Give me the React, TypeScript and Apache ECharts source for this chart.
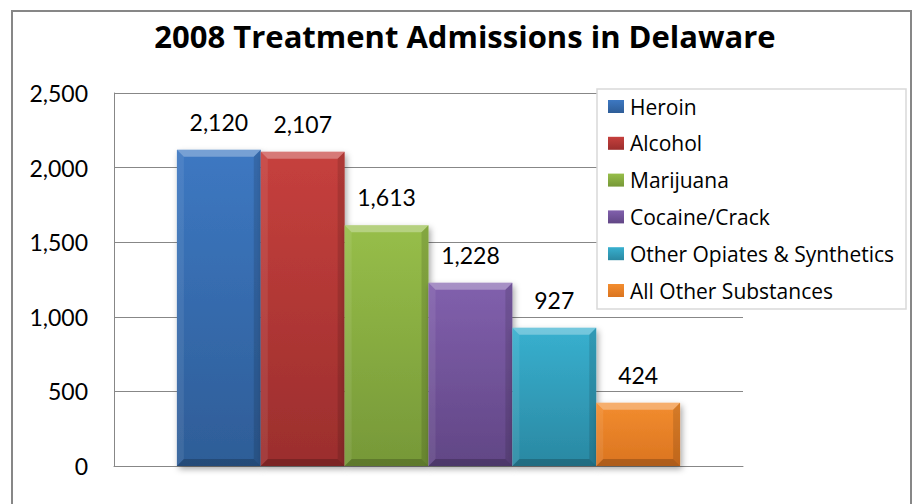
import React, { useEffect, useRef } from 'react';
import * as echarts from 'echarts';

const chartTitle = '2008 Treatment Admissions in Delaware';
const categoryAxis = ['2008'];
const substances = [
  'Heroin',
  'Alcohol',
  'Marijuana',
  'Cocaine/Crack',
  'Other Opiates & Synthetics',
  'All Other Substances',
];
const admissions = [2120, 2107, 1613, 1228, 927, 424];
const faceTop = ['#3d78c2', '#c6403d', '#97be49', '#8160ad', '#38b0cf', '#f38d2f'];
const faceBottom = ['#2e5d97', '#9b2e2d', '#769838', '#614685', '#2a88a2', '#da7420'];
const yMin = 0;
const yMax = 2500;
const yStep = 500;

const FONT = 'Lato';
const FONT2 = '"Open Sans"';

export default function App() {
  const ref = useRef<HTMLDivElement>(null);

  useEffect(() => {
    const chart = echarts.init(ref.current as HTMLDivElement, null, { renderer: 'svg' });
    const N = admissions.length;

    const series = substances.map((name, i) => ({
      type: 'custom',
      name,
      data: [[0, admissions[i]]],
      encode: { x: 0, y: 1 },
      z: 2,
      itemStyle: {
        color: new echarts.graphic.LinearGradient(0, 0, 0, 1, [
          { offset: 0, color: faceTop[i] },
          { offset: 1, color: faceBottom[i] },
        ]),
      },
      renderItem: (params: any, api: any) => {
        const cat = api.value(0);
        const v = api.value(1);
        const p0 = api.coord([cat, 0]);
        const p1 = api.coord([cat, v]);
        const band = api.size([1, 0])[0];
        const groupW = band * 0.8;
        const w = groupW / N;
        const x = p0[0] - groupW / 2 + i * w;
        const ty = p1[1];
        const by = p0[1];
        const h = by - ty;
        const b = Math.min(7, h / 3);
        const grad = new echarts.graphic.LinearGradient(0, 0, 0, 1, [
          { offset: 0, color: faceTop[i] },
          { offset: 1, color: faceBottom[i] },
        ]);
        return {
          type: 'group',
          children: [
            {
              type: 'rect',
              shape: { x, y: ty, width: w, height: h },
              style: {
                fill: grad,
                shadowBlur: 6,
                shadowOffsetX: 2,
                shadowOffsetY: 3,
                shadowColor: 'rgba(0,0,0,0.35)',
              },
            },
            {
              type: 'polygon',
              shape: { points: [[x, ty], [x + w, ty], [x + w - b, ty + b], [x + b, ty + b]] },
              style: { fill: 'rgba(255,255,255,0.3)' },
            },
            {
              type: 'polygon',
              shape: { points: [[x, ty], [x + b, ty + b], [x + b, by - b], [x, by]] },
              style: { fill: 'rgba(255,255,255,0.08)' },
            },
            {
              type: 'polygon',
              shape: { points: [[x + w, ty], [x + w - b, ty + b], [x + w - b, by - b], [x + w, by]] },
              style: { fill: 'rgba(0,0,0,0.12)' },
            },
            {
              type: 'polygon',
              shape: { points: [[x, by], [x + b, by - b], [x + w - b, by - b], [x + w, by]] },
              style: { fill: 'rgba(0,0,0,0.2)' },
            },
            {
              type: 'text',
              x: x + w / 2,
              y: ty - 28,
              style: {
                text: v.toLocaleString('en-US'),
                fill: '#000',
                font: `23px ${FONT}`,
                textAlign: 'center',
                textVerticalAlign: 'middle',
              },
            },
          ],
        };
      },
    }));

    chart.setOption({
      animation: false,
      backgroundColor: '#ffffff',
      title: {
        text: chartTitle,
        left: 460,
        top: 15,
        textAlign: 'center',
        textStyle: { fontFamily: FONT2, fontWeight: 'bold', fontSize: 31, color: '#000' },
      },
      grid: { left: 114, right: 169, top: 93, bottom: 38, containLabel: false },
      xAxis: {
        type: 'category',
        data: categoryAxis,
        axisLine: { show: true, lineStyle: { color: '#878787', width: 1 } },
        axisTick: { show: false },
        axisLabel: { show: false },
        splitLine: { show: false },
      },
      yAxis: {
        type: 'value',
        min: yMin,
        max: yMax,
        interval: yStep,
        axisLine: { show: true, lineStyle: { color: '#878787', width: 1 } },
        axisTick: { show: false },
        axisLabel: {
          margin: 26,
          color: '#000',
          fontFamily: FONT,
          fontSize: 23,
          formatter: (val: number) => val.toLocaleString('en-US'),
        },
        splitLine: { show: true, lineStyle: { color: '#878787', width: 1 } },
      },
      legend: {
        orient: 'vertical',
        left: 608,
        top: 96,
        padding: 0,
        itemGap: 15.8,
        itemWidth: 16,
        itemHeight: 13,
        icon: 'rect',
        selectedMode: false,
        z: 5,
        textStyle: { fontFamily: FONT2, fontSize: 21, color: '#000', lineHeight: 20, padding: [0, 0, 0, 1] },
        data: substances,
      },
      graphic: [
        {
          type: 'rect',
          z: 0,
          silent: true,
          shape: { x: 12, y: 11, width: 899, height: 520 },
          style: { fill: 'none', stroke: '#878787', lineWidth: 2 },
        },
        {
          type: 'rect',
          z: 3,
          silent: true,
          shape: { x: 597, y: 89, width: 309, height: 220 },
          style: { fill: '#ffffff', stroke: '#d9d9d9', lineWidth: 1.5 },
        },
      ],
      series,
    } as any);

    return () => {
      chart.dispose();
    };
  }, []);

  return (
    <div
      ref={ref}
      style={{ position: 'absolute', left: 0, top: 0, width: 912, height: 504 }}
    />
  );
}
